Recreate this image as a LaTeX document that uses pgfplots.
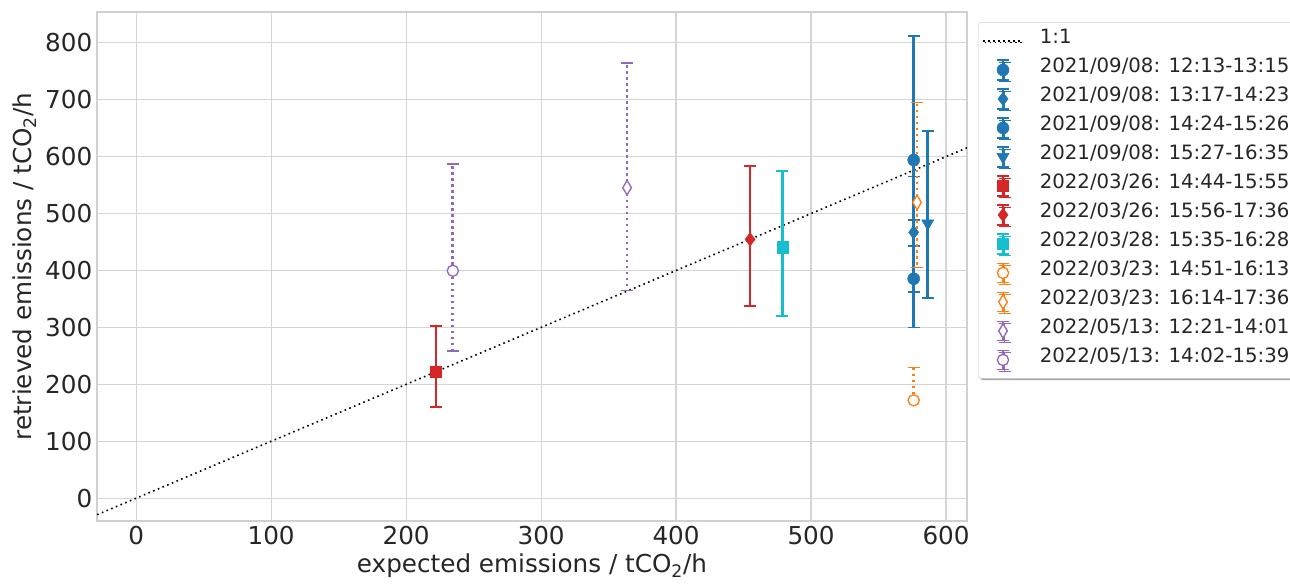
\documentclass[border=0pt]{standalone}
\usepackage{pgfplots}
\pgfplotsset{compat=1.18}
\usepackage{fontspec}
\setmainfont{DejaVu Sans}
\usetikzlibrary{shadows}
\definecolor{tabblue}{HTML}{1F77B4}
\definecolor{tabred}{HTML}{D62728}
\definecolor{tabcyan}{HTML}{17BECF}
\definecolor{taborange}{HTML}{FF7F0E}
\definecolor{tabpurple}{HTML}{9467BD}
\definecolor{gridgray}{HTML}{D5D5D5}
\definecolor{framegray}{HTML}{D0D0D0}
\definecolor{textgray}{HTML}{262626}
\pgfplotsset{
  ebleg/.style 2 args={/pgfplots/legend image code/.code={
    \draw[#1, line width=#2, solid] (15pt,-7.3pt) -- (15pt,7.3pt)
      (10.5pt,-7.3pt) -- (19.5pt,-7.3pt) (10.5pt,7.3pt) -- (19.5pt,7.3pt);
    \draw[##1] plot coordinates {(15pt,0pt)};
  }},
  solidbar/.style={/pgfplots/error bars/y dir=both, /pgfplots/error bars/y explicit,
    /pgfplots/error bars/error bar style={line width=1.9pt, #1, solid},
    /pgfplots/error bars/error mark options={rotate=90, mark size=4.5pt, line width=1.2pt, #1, solid}},
  dotbar/.style={/pgfplots/error bars/y dir=both, /pgfplots/error bars/y explicit,
    /pgfplots/error bars/error bar style={line width=2pt, #1, dash pattern=on 1.9pt off 2.6pt},
    /pgfplots/error bars/error mark options={rotate=90, mark size=4.5pt, line width=1.1pt, #1, solid}},
}
\begin{document}
\begin{tikzpicture}
\begin{axis}[
  at={(0,0)}, anchor=south west,
  width=652.5pt, height=381.75pt, scale only axis,
  xmin=-29, xmax=615.5, ymin=-40, ymax=854,
  xtick={0,100,...,600}, ytick={0,100,...,800},
  grid=major, grid style={color=gridgray, line width=0.9pt},
  axis line style={framegray, line width=1pt},
  major tick length=0pt,
  tick label style={font=\fontsize{18.5}{22}\selectfont, text=textgray},
  /pgf/number format/assume math mode=true,
  label style={font=\fontsize{18.5}{22}\selectfont, text=textgray},
  xlabel={expected emissions / tCO\textsubscript{2}/h},
  ylabel={retrieved emissions / tCO\textsubscript{2}/h},
  clip=true,
  legend style={at={(1.0126,0.980)}, anchor=north west, draw=framegray,
    rounded corners=2pt, fill=white, text=textgray,
    font=\fontsize{14.8}{17}\selectfont,
    drop shadow={shadow xshift=1.2pt, shadow yshift=-1.2pt, fill=gray!70, opacity=1},
    nodes={inner sep=0pt, text height=12.5pt, text depth=9.25pt, inner xsep=6pt},
    inner xsep=3pt, inner ysep=3pt, row sep=0pt, column sep=6pt},
  legend cell align=left,
]
\addplot[black, line width=1.2pt, dash pattern=on 1.2pt off 2.6pt, no marks,
  legend image code/.code={\draw[black, line width=1.2pt, dash pattern=on 1.2pt off 2.6pt] (0pt,0pt) -- (30pt,0pt);}]
  coordinates {(-60,-60) (700,700)};
\addlegendentry{1:1}

\addplot[only marks, tabblue, mark=*, mark size=4.5pt, solidbar=tabblue, ebleg={tabblue}{1.5pt}]
  coordinates {(576,594) += (0,218) -= (0,232)};
\addlegendentry{2021/09/08: 12:13-13:15}
\addplot[only marks, tabblue, mark=diamond*, mark size=5pt, solidbar=tabblue, ebleg={tabblue}{1.5pt}]
  coordinates {(576,467) += (0,22) -= (0,24)};
\addlegendentry{2021/09/08: 13:17-14:23}
\addplot[only marks, tabblue, mark=*, mark size=4.5pt, solidbar=tabblue, ebleg={tabblue}{1.5pt}]
  coordinates {(576,385.5) += (0,179.5) -= (0,85.5)};
\addlegendentry{2021/09/08: 14:24-15:26}
\addplot[only marks, tabblue, mark=triangle*, mark size=5.2pt, mark options={rotate=180}, solidbar=tabblue, ebleg={tabblue}{1.5pt}]
  coordinates {(586.4,482.7) += (0,162.3) -= (0,130.7)};
\addlegendentry{2021/09/08: 15:27-16:35}
\addplot[only marks, tabred, mark=square*, mark size=4.2pt, solidbar=tabred, ebleg={tabred}{1.5pt}]
  coordinates {(222,222) += (0,80) -= (0,62)};
\addlegendentry{2022/03/26: 14:44-15:55}
\addplot[only marks, tabred, mark=diamond*, mark size=5pt, solidbar=tabred, ebleg={tabred}{1.5pt}]
  coordinates {(454.8,454.6) += (0,128.4) -= (0,117)};
\addlegendentry{2022/03/26: 15:56-17:36}
\addplot[only marks, tabcyan, mark=square*, mark size=4.2pt, solidbar=tabcyan, ebleg={tabcyan}{1.5pt}]
  coordinates {(478.8,440.6) += (0,134.1) -= (0,120.2)};
\addlegendentry{2022/03/28: 15:35-16:28}
\addplot[only marks, taborange, mark=*, mark size=4.2pt, mark options={fill=white, line width=1pt, solid}, dotbar=taborange, ebleg={taborange}{1pt}]
  coordinates {(576,172) += (0,58) -= (0,0)};
\addlegendentry{2022/03/23: 14:51-16:13}
\addplot[only marks, taborange, mark=diamond*, mark size=5.4pt, mark options={fill=white, line width=1pt, solid, xscale=0.8}, dotbar=taborange, ebleg={taborange}{1pt}]
  coordinates {(578.5,519.6) += (0,175.4) -= (0,114.6)};
\addlegendentry{2022/03/23: 16:14-17:36}
\addplot[only marks, tabpurple, mark=diamond*, mark size=5.4pt, mark options={fill=white, line width=1pt, solid, xscale=0.8}, dotbar=tabpurple, ebleg={tabpurple}{1pt}]
  coordinates {(363.7,545.4) += (0,219) -= (0,181)};
\addlegendentry{2022/05/13: 12:21-14:01}
\addplot[only marks, tabpurple, mark=*, mark size=4.2pt, mark options={fill=white, line width=1pt, solid}, dotbar=tabpurple, ebleg={tabpurple}{1pt}]
  coordinates {(234.6,399.5) += (0,187.5) -= (0,141.2)};
\addlegendentry{2022/05/13: 14:02-15:39}
\end{axis}
\pgfresetboundingbox
\path[use as bounding box] (-72.75pt,-47.25pt) rectangle (894.75pt,390.75pt);
\end{tikzpicture}
\end{document}
